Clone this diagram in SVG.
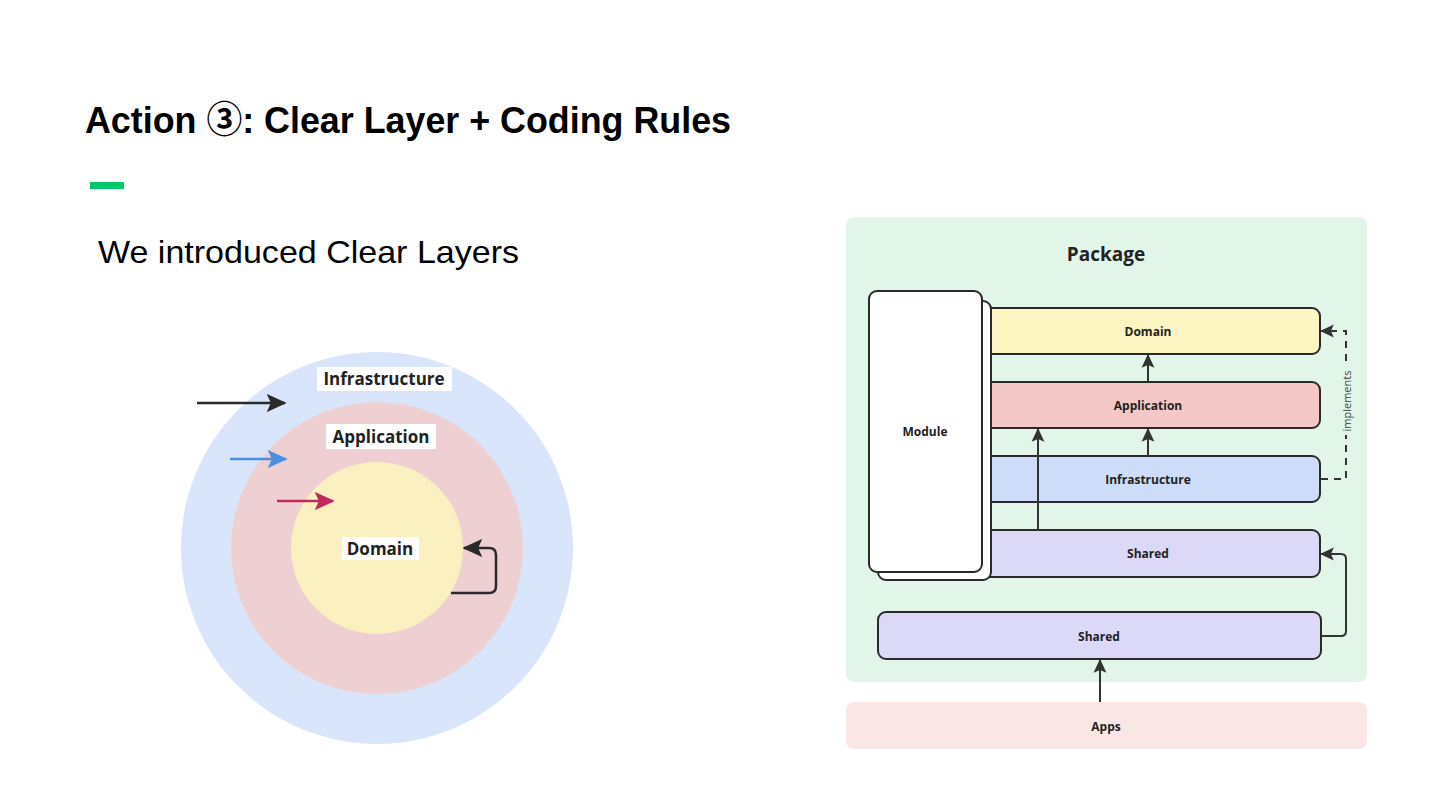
<svg xmlns="http://www.w3.org/2000/svg" width="1440" height="810" viewBox="0 0 1440 810">
<defs>
<style>
.title{font-family:"Liberation Sans",Arial,"DejaVu Sans",sans-serif;font-weight:bold;font-size:37px;fill:#000}
.circ{font-family:"Noto Sans CJK JP","DejaVu Sans",sans-serif;font-weight:bold}
.sub{font-family:"Liberation Sans",Arial,sans-serif;font-size:32px;fill:#000}
.cl{font-family:"Open Sans","Noto Sans",sans-serif;font-weight:bold;font-size:17px;fill:#222;text-anchor:middle}
.bl{font-family:"Open Sans","Noto Sans",sans-serif;font-weight:bold;font-size:12px;fill:#222;text-anchor:middle;dominant-baseline:central}
.box{stroke:#2a2a2a;stroke-width:2}
.ln{fill:none;stroke:#333;stroke-width:2}
</style>
<marker id="ah" viewBox="0 0 12 12" refX="11" refY="6" markerWidth="14" markerHeight="14" markerUnits="userSpaceOnUse" orient="auto">
<path d="M0,0.5 L12,6 L0,11.5 L2.5,6 Z" fill="#333"/>
</marker>
<marker id="ahb" viewBox="0 0 12 12" refX="11" refY="6" markerWidth="20" markerHeight="20" markerUnits="userSpaceOnUse" orient="auto">
<path d="M0,0.5 L12,6 L0,11.5 L2.5,6 Z" fill="#4a90e2"/>
</marker>
<marker id="ahm" viewBox="0 0 12 12" refX="11" refY="6" markerWidth="20" markerHeight="20" markerUnits="userSpaceOnUse" orient="auto">
<path d="M0,0.5 L12,6 L0,11.5 L2.5,6 Z" fill="#c2285c"/>
</marker>
<marker id="ahk" viewBox="0 0 12 12" refX="11" refY="6" markerWidth="20" markerHeight="20" markerUnits="userSpaceOnUse" orient="auto">
<path d="M0,0.5 L12,6 L0,11.5 L2.5,6 Z" fill="#2a2a2a"/>
</marker>
</defs>
<rect width="1440" height="810" fill="#fff"/>

<text class="title" x="85" y="133" textLength="646" lengthAdjust="spacingAndGlyphs">Action <tspan class="circ">③</tspan>: Clear Layer + Coding Rules</text>
<rect x="90" y="182" width="34" height="7" fill="#00c86a"/>
<text class="sub" x="98" y="263" textLength="421" lengthAdjust="spacingAndGlyphs">We introduced Clear Layers</text>

<!-- Onion diagram -->
<g id="infra-ring">
<circle cx="377" cy="548" r="196" fill="#d9e5fb"/>
<rect x="317" y="367" width="135" height="24" fill="#fff"/>
<text class="cl" x="384" y="385">Infrastructure</text>
</g>
<g id="app-ring">
<circle cx="377" cy="548" r="146" fill="#efd0d2"/>
<rect x="326" y="424" width="110" height="25" fill="#fff"/>
<text class="cl" x="381" y="443">Application</text>
</g>
<g id="domain-core">
<circle cx="377" cy="548" r="86" fill="#fbf0c0"/>
<rect x="342" y="537" width="77" height="23" fill="#fff"/>
<text class="cl" x="380" y="555">Domain</text>
</g>
<g id="onion-arrows">
<line x1="197" y1="403" x2="285" y2="403" stroke="#2a2a2a" stroke-width="2.5" marker-end="url(#ahk)"/>
<line x1="230" y1="459" x2="286" y2="459" stroke="#4a90e2" stroke-width="2.5" marker-end="url(#ahb)"/>
<line x1="277" y1="501" x2="333" y2="501" stroke="#c2285c" stroke-width="2.5" marker-end="url(#ahm)"/>
<path d="M451,593 H489 Q496,593 496,586 V555 Q496,548 489,548 H464" fill="none" stroke="#2a2a2a" stroke-width="2.5" marker-end="url(#ahk)"/>
</g>

<!-- Package diagram -->
<g id="package">
<rect x="846" y="217" width="521" height="465" rx="8" fill="#e2f5e9"/>
<text x="1106" y="261" font-family="Open Sans,Noto Sans,sans-serif" font-weight="bold" font-size="19" fill="#222" text-anchor="middle">Package</text>
</g>
<g id="apps">
<rect x="846" y="702" width="521" height="47" rx="8" fill="#fbe6e6"/>
<text class="bl" x="1106" y="726">Apps</text>
</g>

<g id="domain-layer">
<rect class="box" x="975" y="308" width="345" height="46" rx="8" fill="#fdf5c2"/>
<text class="bl" x="1148" y="331">Domain</text>
</g>
<g id="application-layer">
<rect class="box" x="975" y="382" width="345" height="46" rx="8" fill="#f5c8c8"/>
<text class="bl" x="1148" y="405">Application</text>
</g>
<g id="infrastructure-layer">
<rect class="box" x="975" y="456" width="345" height="46" rx="8" fill="#cddcf8"/>
<text class="bl" x="1148" y="479">Infrastructure</text>
</g>
<g id="shared-layer">
<rect class="box" x="975" y="530" width="345" height="47" rx="8" fill="#dcd9f8"/>
<text class="bl" x="1148" y="553">Shared</text>
</g>
<g id="shared-lower">
<rect class="box" x="878" y="612" width="443" height="47" rx="8" fill="#dcd9f8"/>
<text class="bl" x="1099" y="636">Shared</text>
</g>

<g id="connectors">
<line class="ln" x1="1148" y1="382" x2="1148" y2="355" marker-end="url(#ah)"/>
<line class="ln" x1="1148" y1="456" x2="1148" y2="429" marker-end="url(#ah)"/>
<line class="ln" x1="1038" y1="530" x2="1038" y2="429" marker-end="url(#ah)"/>
<line class="ln" x1="1100" y1="702" x2="1100" y2="660" marker-end="url(#ah)"/>
<path class="ln" d="M1321,636 H1341 Q1346,636 1346,631 V559 Q1346,554 1341,554 H1321" marker-end="url(#ah)"/>
<path class="ln" d="M1321,479 H1346 V331 H1321" stroke-dasharray="7,6" marker-end="url(#ah)"/>
<rect x="1338" y="367" width="16" height="68" fill="#e2f5e9"/>
<text x="1346" y="401" transform="rotate(-90 1346 401)" font-family="Open Sans,Noto Sans,sans-serif" font-size="11" fill="#444" text-anchor="middle" dominant-baseline="central">implements</text>
</g>

<g id="module">
<rect class="box" x="878" y="301" width="113" height="279" rx="8" fill="#fff"/>
<rect class="box" x="869" y="291" width="113" height="281" rx="8" fill="#fff"/>
<text class="bl" x="925" y="431">Module</text>
</g>
</svg>
